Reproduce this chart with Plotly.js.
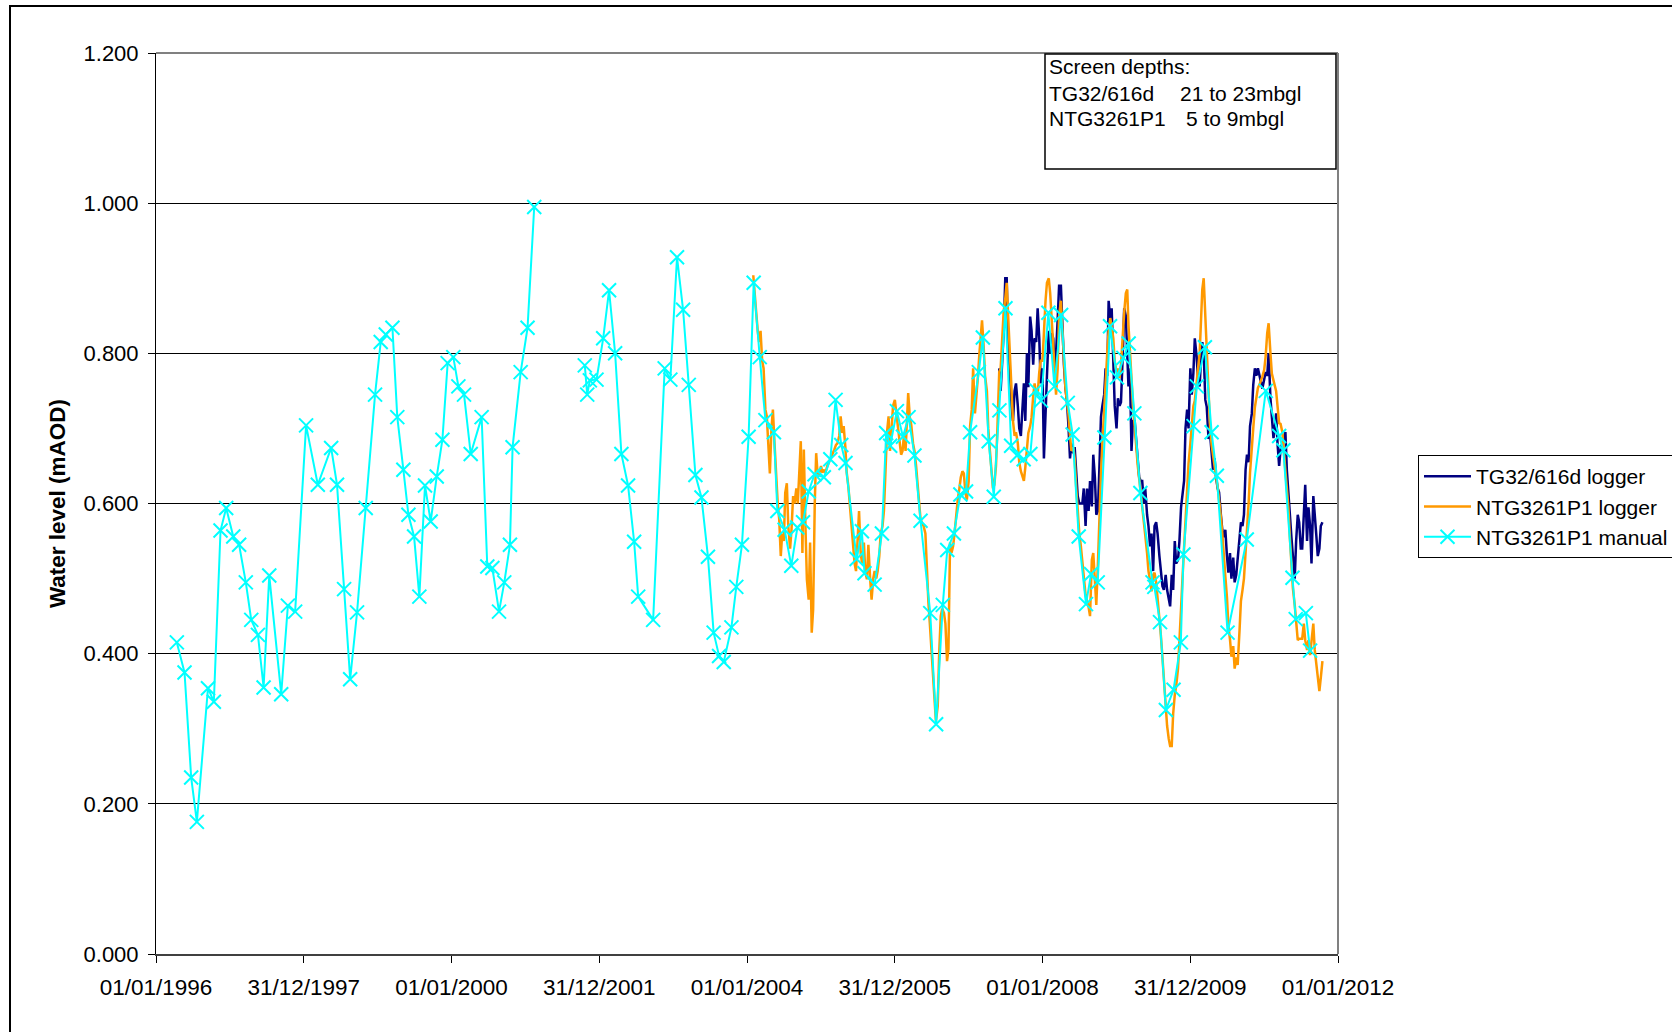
<!DOCTYPE html>
<html>
<head>
<meta charset="utf-8">
<script src="https://cdn.plot.ly/plotly-3.0.1.min.js"></script>
<style>
  html, body { margin: 0; padding: 0; background: #fff; }
  #chart { width: 1672px; height: 1032px; }
</style>
</head>
<body>
<div id="chart"></div>
<script>
// ---------------- DATA ----------------
const tickDates = ['1996-01-01', '1997-12-31 12:00', '2000-01-01', '2001-12-31 12:00', '2004-01-01',
                   '2005-12-31 12:00', '2008-01-01', '2009-12-31 12:00', '2012-01-01'];
const tickLabels = ['01/01/1996', '31/12/1997', '01/01/2000', '31/12/2001', '01/01/2004',
                    '31/12/2005', '01/01/2008', '31/12/2009', '01/01/2012'];
const yTicks = [0, 0.2, 0.4, 0.6, 0.8, 1.0, 1.2];

const seriesNames = ['TG32/616d logger', 'NTG3261P1 logger', 'NTG3261P1 manual'];

// Manual dip readings (null = gap in record)
const manualDates = [
  '1996-04-13','1996-05-21','1996-06-23','1996-07-21','1996-09-14','1996-10-13','1996-11-15','1996-12-13',
  '1997-01-17','1997-02-15','1997-03-20','1997-04-16','1997-05-19','1997-06-16','1997-07-14','1997-09-11',
  '1997-10-14','1997-11-19','1998-01-12','1998-03-11','1998-05-16','1998-06-14','1998-07-19','1998-08-18',
  '1998-09-21','1998-11-03','1998-12-19','1999-01-16','1999-02-10','1999-03-15','1999-04-08','1999-05-08',
  '1999-06-02','1999-06-30','1999-07-26','1999-08-23','1999-09-20','1999-10-20','1999-11-17','1999-12-13',
  '2000-01-10','2000-02-04','2000-03-03','2000-04-05','2000-05-29','2000-06-26','2000-07-21','2000-08-23',
  '2000-09-18','2000-10-16','2000-10-29','2000-12-08','2001-01-11','2001-02-13','2001-06-01',
  '2001-10-21','2001-11-02','2001-11-15','2001-12-18','2002-01-20','2002-02-18','2002-03-20','2002-04-20',
  '2002-05-23','2002-06-22','2002-07-12','2002-09-24','2002-11-20','2002-12-18','2003-01-20','2003-02-19',
  '2003-03-19','2003-04-21','2003-05-21','2003-06-22','2003-07-20','2003-08-16','2003-09-08','2003-10-16',
  '2003-11-09','2003-12-07','2004-01-09','2004-02-03','2004-03-04','2004-04-01','2004-05-13','2004-05-30',
  '2004-07-05','2004-08-07','2004-09-06','2004-10-04','2004-11-01','2004-11-30','2005-01-15','2005-02-16',
  '2005-03-14','2005-04-11','2005-05-02','2005-06-26','2005-07-22','2005-08-04','2005-09-23','2005-10-29',
  '2005-11-19','2005-12-09','2006-01-11','2006-02-10','2006-03-10','2006-04-08','2006-05-08','2006-06-25',
  '2006-07-24','2006-08-26','2006-09-17','2006-10-20','2006-11-21','2006-12-19','2007-01-08','2007-02-20',
  '2007-03-12','2007-04-10','2007-05-05','2007-06-02','2007-07-02','2007-07-30','2007-08-28','2007-09-30',
  '2007-11-02','2007-11-30','2007-12-25','2008-01-30','2008-02-29','2008-04-02','2008-05-05','2008-05-29',
  '2008-06-28','2008-08-03','2008-08-28','2008-09-30','2008-11-02','2008-11-30','2009-01-03','2009-02-04',
  '2009-03-02','2009-03-30','2009-04-29','2009-06-28','2009-07-07','2009-08-04','2009-09-02','2009-10-10',
  '2009-11-15','2009-11-28','2010-01-17','2010-02-02','2010-03-14','2010-04-16','2010-05-12','2010-07-04',
  '2010-10-07','2011-01-09','2011-03-16','2011-04-06','2011-05-21','2011-06-06','2011-07-26','2011-08-16'
];
const manualValues = [
  0.415,0.375,0.235,0.176,0.354,0.336,0.564,0.594,
  0.556,0.545,0.495,0.445,0.425,0.355,0.504,0.346,
  0.464,0.456,0.704,0.625,0.674,0.625,0.486,0.366,
  0.455,0.594,0.745,0.815,0.825,0.834,0.715,0.645,
  0.585,0.556,0.476,0.624,0.576,0.636,0.685,0.787,
  0.795,0.756,0.745,0.666,0.715,0.516,0.514,0.456,
  0.495,0.545,0.675,0.775,0.834,0.995,null,
  0.784,0.745,0.764,0.765,0.820,0.884,0.800,0.666,
  0.624,0.549,0.476,0.445,0.780,0.765,0.928,0.858,
  0.758,0.638,0.608,0.529,0.428,0.397,0.389,0.435,
  0.489,0.545,0.689,0.894,0.795,0.711,0.695,0.590,
  0.565,0.517,0.568,0.575,0.616,0.639,0.635,0.659,
  0.738,0.678,0.654,0.526,0.563,0.507,0.492,0.560,
  0.694,0.677,0.723,0.689,0.715,0.664,0.577,0.454,
  0.306,0.465,0.538,0.560,0.612,0.616,0.695,0.775,
  0.821,0.683,0.609,0.724,0.860,0.677,0.664,0.659,
  0.666,0.751,0.737,0.854,0.756,0.851,0.734,0.692,
  0.556,0.466,0.506,0.495,0.688,0.836,0.768,0.794,
  0.813,0.720,0.614,0.495,0.489,0.442,0.325,0.352,
  0.415,0.532,0.703,0.756,0.808,0.695,0.637,0.428,
  0.552,0.750,0.690,0.671,0.501,0.446,0.454,0.404
];

// Logger readings: month, then readings on the 1st, 8th, 16th and 23rd
const readingDays = ['01', '08', '16', '23'];

const ntgLogger = [
  ['2004-02',0.904,0.875,0.853,0.830],['2004-03',0.815,0.830,0.790,0.780],['2004-04',0.725,0.716,0.667,0.640],
  ['2004-05',0.700,0.725,0.680,0.640],['2004-06',0.600,0.580,0.530,0.560],['2004-07',0.550,0.614,0.627,0.570],
  ['2004-08',0.540,0.565,0.610,0.600],['2004-09',0.620,0.600,0.650,0.683],['2004-10',0.534,0.672,0.570,0.499],
  ['2004-11',0.472,0.548,0.428,0.459],['2004-12',0.600,0.667,0.636,0.640],
  ['2005-01',0.650,0.641,0.645,0.641],['2005-02',0.650,0.654,0.660,0.663],['2005-03',0.668,0.672,0.678,0.680],
  ['2005-04',0.690,0.716,0.694,0.703],['2005-05',0.676,0.641,0.623,0.600],['2005-06',0.570,0.540,0.520,0.510],
  ['2005-07',0.550,0.590,0.534,0.520],['2005-08',0.548,0.508,0.499,0.545],['2005-09',0.499,0.472,0.500,0.510],
  ['2005-10',0.500,0.510,0.530,0.560],['2005-11',0.570,0.590,0.645,0.694],['2005-12',0.716,0.670,0.700,0.730],
  ['2006-01',0.738,0.720,0.700,0.687],['2006-02',0.665,0.670,0.694,0.670],['2006-03',0.711,0.747,0.715,0.705],
  ['2006-04',0.680,0.670,0.650,0.625],['2006-05',0.600,0.579,0.574,0.570],['2006-06',0.560,0.512,0.468,0.440],
  ['2006-07',0.410,0.380,0.340,0.310],['2006-08',0.330,0.400,0.450,0.460],['2006-09',0.454,0.440,0.390,0.406],
  ['2006-10',0.548,0.534,0.543,0.560],['2006-11',0.590,0.605,0.620,0.635],['2006-12',0.643,0.640,0.614,0.605],
  ['2007-01',0.630,0.703,0.725,0.780],['2007-02',0.720,0.740,0.770,0.800],['2007-03',0.820,0.844,0.810,0.770],
  ['2007-04',0.750,0.700,0.670,0.650],['2007-05',0.620,0.625,0.650,0.700],['2007-06',0.775,0.780,0.830,0.856],
  ['2007-07',0.873,0.894,0.845,0.800],['2007-08',0.740,0.710,0.690,0.695],['2007-09',0.680,0.655,0.643,0.636],
  ['2007-10',0.630,0.648,0.678,0.694],['2007-11',0.703,0.715,0.743,0.760],['2007-12',0.745,0.745,0.775,0.790],
  ['2008-01',0.790,0.830,0.870,0.894],['2008-02',0.900,0.880,0.845,0.810],['2008-03',0.770,0.745,0.780,0.850],
  ['2008-04',0.870,0.830,0.785,0.755],['2008-05',0.735,0.720,0.690,0.670],['2008-06',0.675,0.660,0.620,0.590],
  ['2008-07',0.560,0.545,0.520,0.505],['2008-08',0.478,0.470,0.462,0.450],['2008-09',0.525,0.534,0.495,0.465],
  ['2008-10',0.520,0.585,0.640,0.680],['2008-11',0.730,0.770,0.800,0.830],['2008-12',0.847,0.836,0.820,0.790],
  ['2009-01',0.775,0.780,0.767,0.785],['2009-02',0.830,0.855,0.880,0.885],['2009-03',0.838,0.810,0.767,0.733],
  ['2009-04',0.700,0.677,0.650,0.633],['2009-05',0.615,0.600,0.578,0.558],['2009-06',0.534,0.510,0.497,0.483],
  ['2009-07',0.505,0.508,0.495,0.475],['2009-08',0.445,0.425,0.395,0.365],['2009-09',0.330,0.304,0.287,0.277],
  ['2009-10',0.277,0.320,0.345,0.357],['2009-11',0.380,0.410,0.460,0.500],['2009-12',0.545,0.585,0.625,0.653],
  ['2010-01',0.680,0.703,0.730,0.737],['2010-02',0.765,0.780,0.800,0.845],['2010-03',0.885,0.900,0.845,0.800],
  ['2010-04',0.750,0.705,0.678,0.662],['2010-05',0.645,0.636,0.622,0.607],['2010-06',0.582,0.560,0.535,0.503],
  ['2010-07',0.475,0.437,0.419,0.396],['2010-08',0.410,0.380,0.395,0.385],['2010-09',0.430,0.470,0.485,0.500],
  ['2010-10',0.535,0.560,0.600,0.641],['2010-11',0.680,0.700,0.728,0.743],['2010-12',0.754,0.758,0.763,0.769],
  ['2011-01',0.778,0.795,0.827,0.840],['2011-02',0.800,0.773,0.764,0.757],['2011-03',0.750,0.730,0.707,0.706],
  ['2011-04',0.695,0.670,0.645,0.630],['2011-05',0.594,0.555,0.512,0.487],['2011-06',0.465,0.445,0.418,0.420],
  ['2011-07',0.420,0.420,0.440,0.418],['2011-08',0.405,0.418,0.398,0.417],['2011-09',0.440,0.405,0.388,0.370],
  ['2011-10',0.350,0.368,0.390]
];

const tgLogger = [
  ['2007-06',0.780,0.750,0.790,0.830],['2007-07',0.900,0.900,0.800,0.780],['2007-08',0.730,0.710,0.750,0.760],
  ['2007-09',0.730,0.700,0.690,0.720],['2007-10',0.760,0.710,0.800,0.755],['2007-11',0.849,0.830,0.785,0.820],
  ['2007-12',0.815,0.860,0.820,0.760],
  ['2008-01',0.780,0.660,0.735,0.770],['2008-02',0.830,0.800,0.827,0.820],['2008-03',0.780,0.800,0.845,0.890],
  ['2008-04',0.890,0.830,0.785,0.755],['2008-05',0.735,0.705,0.660,0.680],['2008-06',0.667,0.675,0.645,0.610],
  ['2008-07',0.600,0.600,0.600,0.620],['2008-08',0.570,0.620,0.590,0.630],['2008-09',0.596,0.665,0.635,0.585],
  ['2008-10',0.590,0.645,0.715,0.730],['2008-11',0.745,0.780,0.770,0.870],['2008-12',0.845,0.860,0.780,0.730],
  ['2009-01',0.700,0.740,0.730,0.735],['2009-02',0.800,0.860,0.850,0.780],['2009-03',0.756,0.780,0.670,0.710],
  ['2009-04',0.710,0.685,0.660,0.635],['2009-05',0.630,0.630,0.600,0.620],['2009-06',0.585,0.570,0.543,0.560],
  ['2009-07',0.510,0.570,0.575,0.560],['2009-08',0.530,0.510,0.490,0.485],['2009-09',0.505,0.485,0.470,0.463],
  ['2009-10',0.505,0.485,0.550,0.520],['2009-11',0.525,0.550,0.595,0.610],['2009-12',0.630,0.700,0.725,0.700],
  ['2010-01',0.780,0.745,0.774,0.820],['2010-02',0.796,0.765,0.756,0.795],['2010-03',0.815,0.800,0.738,0.729],
  ['2010-04',0.686,0.694,0.660,0.645],['2010-05',0.660,0.635,0.620,0.615],['2010-06',0.585,0.565,0.555,0.565],
  ['2010-07',0.530,0.508,0.534,0.500],['2010-08',0.528,0.495,0.505,0.525],['2010-09',0.545,0.575,0.570,0.585],
  ['2010-10',0.645,0.665,0.655,0.703],['2010-11',0.720,0.758,0.780,0.770],['2010-12',0.780,0.772,0.760,0.753],
  ['2011-01',0.765,0.775,0.770,0.800],['2011-02',0.740,0.720,0.687,0.702],['2011-03',0.720,0.680,0.650,0.672],
  ['2011-04',0.680,0.685,0.695,0.645],['2011-05',0.612,0.573,0.554,0.530],['2011-06',0.500,0.550,0.585,0.575],
  ['2011-07',0.540,0.540,0.580,0.625],['2011-08',0.550,0.595,0.570,0.520],['2011-09',0.610,0.590,0.557,0.530],
  ['2011-10',0.540,0.570,0.575]
];

// ---------------- BUILD ----------------
function expandLogger(rows) {
  const x = [], y = [];
  rows.forEach(row => {
    for (let k = 1; k < row.length; k++) {
      x.push(row[0] + '-' + readingDays[k - 1]);
      y.push(row[k]);
    }
  });
  return { x, y };
}
const tg = expandLogger(tgLogger);
const ntg = expandLogger(ntgLogger);

const FONT = 'Arial, "Liberation Sans", sans-serif';

const traces = [
  { type: 'scatter', mode: 'lines', name: seriesNames[0], x: tg.x, y: tg.y,
    line: { color: '#000080', width: 2.5 } },
  { type: 'scatter', mode: 'lines', name: seriesNames[1], x: ntg.x, y: ntg.y,
    line: { color: '#FF9900', width: 2.5 } },
  { type: 'scatter', mode: 'lines+markers', name: seriesNames[2], x: manualDates, y: manualValues,
    connectgaps: false,
    line: { color: '#00FFFF', width: 2 },
    marker: { symbol: 'x-thin', size: 14, color: '#00FFFF', line: { color: '#00FFFF', width: 2 } } }
];

const L = 156, R = 334, T = 53, B = 78, W = 1672, H = 1032;
const pw = W - L - R, ph = H - T - B;
const px = v => (v - L) / pw;          // pixel -> paper x
const py = v => (H - B - v) / ph;      // pixel -> paper y

const layout = {
  width: W, height: H,
  margin: { l: L, r: R, t: T, b: B, autoexpand: false },
  paper_bgcolor: '#fff', plot_bgcolor: '#fff',
  font: { family: FONT, color: '#000', size: 21 },
  showlegend: true,
  xaxis: {
    type: 'date', range: ['1996-01-01', '2012-01-01'],
    tickmode: 'array', tickvals: tickDates, ticktext: tickLabels,
    ticks: 'outside', ticklen: 7, tickwidth: 1, tickcolor: '#000',
    showgrid: false, zeroline: false,
    showline: true, linecolor: '#404040', linewidth: 2,
    tickfont: { family: FONT, size: 22.5, color: '#000' },
    ticklabelstandoff: 5
  },
  yaxis: {
    range: [0, 1.2], tickmode: 'array', tickvals: yTicks, tickformat: '.3f',
    ticks: 'outside', ticklen: 7, tickwidth: 1, tickcolor: '#000',
    showgrid: true, gridcolor: '#000', gridwidth: 1, zeroline: false,
    showline: true, linecolor: '#000', linewidth: 1,
    tickfont: { family: FONT, size: 22, color: '#000' },
    ticklabelstandoff: 5,
    title: { text: '<b>Water level (mAOD)</b>', font: { family: FONT, size: 22.5, color: '#000' }, standoff: 11 }
  },
  legend: {
    x: px(1418), y: py(455), xanchor: 'left', yanchor: 'top',
    bgcolor: '#fff', bordercolor: '#000', borderwidth: 1,
    font: { family: FONT, size: 21, color: '#000' },
    itemwidth: 47, tracegroupgap: 0
  },
  shapes: [
    // plot frame top & right (grey)
    { type: 'line', xref: 'paper', yref: 'paper', x0: 0, x1: 1, y0: 1, y1: 1, line: { color: '#808080', width: 2 } },
    { type: 'line', xref: 'paper', yref: 'paper', x0: 1, x1: 1, y0: 0, y1: 1, line: { color: '#808080', width: 2 } },
    // text box
    { type: 'rect', xref: 'paper', yref: 'paper', x0: px(1045), x1: px(1336), y0: py(169), y1: py(54),
      fillcolor: '#fff', line: { color: '#000', width: 1.5 } },
    // outer chart border
    { type: 'rect', xref: 'paper', yref: 'paper', x0: px(10), x1: px(1800), y0: py(1200), y1: py(6),
      line: { color: '#000', width: 2 } }
  ],
  annotations: [
    { xref: 'paper', yref: 'paper', x: px(1047), y: py(67), xanchor: 'left', yanchor: 'middle', showarrow: false,
      text: 'Screen depths:', font: { family: FONT, size: 21, color: '#000' } },
    { xref: 'paper', yref: 'paper', x: px(1047), y: py(93.5), xanchor: 'left', yanchor: 'middle', showarrow: false,
      text: 'TG32/616d', font: { family: FONT, size: 21, color: '#000' } },
    { xref: 'paper', yref: 'paper', x: px(1178), y: py(93.5), xanchor: 'left', yanchor: 'middle', showarrow: false,
      text: '21 to 23mbgl', font: { family: FONT, size: 21, color: '#000' } },
    { xref: 'paper', yref: 'paper', x: px(1047), y: py(119), xanchor: 'left', yanchor: 'middle', showarrow: false,
      text: 'NTG3261P1', font: { family: FONT, size: 21, color: '#000' } },
    { xref: 'paper', yref: 'paper', x: px(1184), y: py(119), xanchor: 'left', yanchor: 'middle', showarrow: false,
      text: '5 to 9mbgl', font: { family: FONT, size: 21, color: '#000' } }
  ]
};

Plotly.newPlot('chart', traces, layout, { displayModeBar: false, staticPlot: true });
</script>
</body>
</html>
